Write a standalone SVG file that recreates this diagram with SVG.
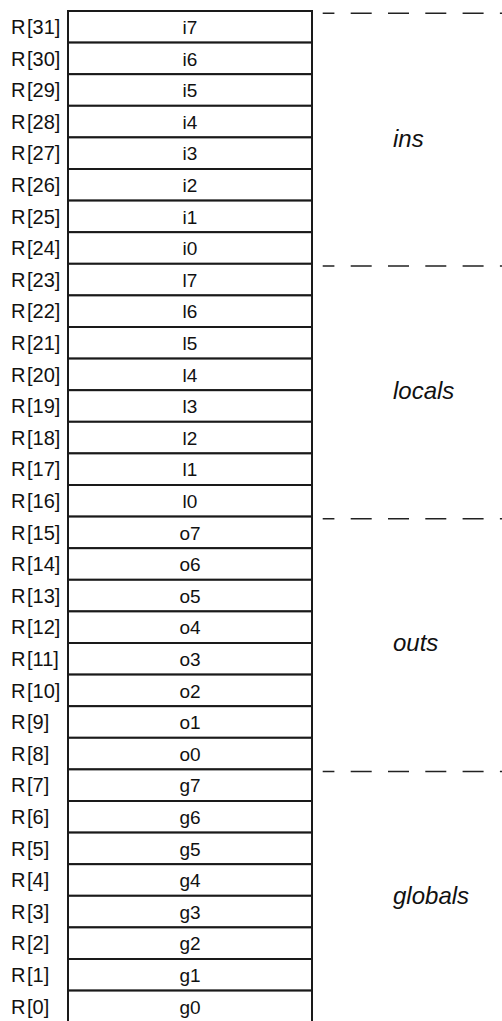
<svg xmlns="http://www.w3.org/2000/svg" width="502" height="1021" viewBox="0 0 502 1021">
  <style>
    .cell { fill: #ffffff; stroke: #1a1a1a; stroke-width: 2; }
    .reg { font-family: "Liberation Sans", Arial, sans-serif; font-size: 20px; fill: #111111; }
    .name { font-family: "Liberation Sans", Arial, sans-serif; font-size: 19px; fill: #111111; text-anchor: middle; }
    .grp { font-family: "Liberation Sans", Arial, sans-serif; font-size: 24px; font-style: italic; fill: #111111; }
    .sep { stroke: #222222; stroke-width: 1.5; stroke-dasharray: 21 16.3; stroke-dashoffset: 9.3; fill: none; }
  </style>
  <rect width="502" height="1021" fill="#ffffff"/>

  <!-- register file: 32 rows, R[31] at the top, 31.6px per row -->
  <g id="r31"><rect class="cell" x="68" y="11" width="244" height="31.6"/><text class="reg" x="11" y="34">R<tspan dx="1.5">[31]</tspan></text><text class="name" x="190" y="34">i7</text></g>
  <g id="r30"><rect class="cell" x="68" y="42.6" width="244" height="31.6"/><text class="reg" x="11" y="65.6">R<tspan dx="1.5">[30]</tspan></text><text class="name" x="190" y="65.6">i6</text></g>
  <g id="r29"><rect class="cell" x="68" y="74.2" width="244" height="31.6"/><text class="reg" x="11" y="97.2">R<tspan dx="1.5">[29]</tspan></text><text class="name" x="190" y="97.2">i5</text></g>
  <g id="r28"><rect class="cell" x="68" y="105.8" width="244" height="31.6"/><text class="reg" x="11" y="128.8">R<tspan dx="1.5">[28]</tspan></text><text class="name" x="190" y="128.8">i4</text></g>
  <g id="r27"><rect class="cell" x="68" y="137.4" width="244" height="31.6"/><text class="reg" x="11" y="160.4">R<tspan dx="1.5">[27]</tspan></text><text class="name" x="190" y="160.4">i3</text></g>
  <g id="r26"><rect class="cell" x="68" y="169" width="244" height="31.6"/><text class="reg" x="11" y="192">R<tspan dx="1.5">[26]</tspan></text><text class="name" x="190" y="192">i2</text></g>
  <g id="r25"><rect class="cell" x="68" y="200.6" width="244" height="31.6"/><text class="reg" x="11" y="223.6">R<tspan dx="1.5">[25]</tspan></text><text class="name" x="190" y="223.6">i1</text></g>
  <g id="r24"><rect class="cell" x="68" y="232.2" width="244" height="31.6"/><text class="reg" x="11" y="255.2">R<tspan dx="1.5">[24]</tspan></text><text class="name" x="190" y="255.2">i0</text></g>
  <g id="r23"><rect class="cell" x="68" y="263.8" width="244" height="31.6"/><text class="reg" x="11" y="286.8">R<tspan dx="1.5">[23]</tspan></text><text class="name" x="190" y="286.8">l7</text></g>
  <g id="r22"><rect class="cell" x="68" y="295.4" width="244" height="31.6"/><text class="reg" x="11" y="318.4">R<tspan dx="1.5">[22]</tspan></text><text class="name" x="190" y="318.4">l6</text></g>
  <g id="r21"><rect class="cell" x="68" y="327" width="244" height="31.6"/><text class="reg" x="11" y="350">R<tspan dx="1.5">[21]</tspan></text><text class="name" x="190" y="350">l5</text></g>
  <g id="r20"><rect class="cell" x="68" y="358.6" width="244" height="31.6"/><text class="reg" x="11" y="381.6">R<tspan dx="1.5">[20]</tspan></text><text class="name" x="190" y="381.6">l4</text></g>
  <g id="r19"><rect class="cell" x="68" y="390.2" width="244" height="31.6"/><text class="reg" x="11" y="413.2">R<tspan dx="1.5">[19]</tspan></text><text class="name" x="190" y="413.2">l3</text></g>
  <g id="r18"><rect class="cell" x="68" y="421.8" width="244" height="31.6"/><text class="reg" x="11" y="444.8">R<tspan dx="1.5">[18]</tspan></text><text class="name" x="190" y="444.8">l2</text></g>
  <g id="r17"><rect class="cell" x="68" y="453.4" width="244" height="31.6"/><text class="reg" x="11" y="476.4">R<tspan dx="1.5">[17]</tspan></text><text class="name" x="190" y="476.4">l1</text></g>
  <g id="r16"><rect class="cell" x="68" y="485" width="244" height="31.6"/><text class="reg" x="11" y="508">R<tspan dx="1.5">[16]</tspan></text><text class="name" x="190" y="508">l0</text></g>
  <g id="r15"><rect class="cell" x="68" y="516.6" width="244" height="31.6"/><text class="reg" x="11" y="539.6">R<tspan dx="1.5">[15]</tspan></text><text class="name" x="190" y="539.6">o7</text></g>
  <g id="r14"><rect class="cell" x="68" y="548.2" width="244" height="31.6"/><text class="reg" x="11" y="571.2">R<tspan dx="1.5">[14]</tspan></text><text class="name" x="190" y="571.2">o6</text></g>
  <g id="r13"><rect class="cell" x="68" y="579.8" width="244" height="31.6"/><text class="reg" x="11" y="602.8">R<tspan dx="1.5">[13]</tspan></text><text class="name" x="190" y="602.8">o5</text></g>
  <g id="r12"><rect class="cell" x="68" y="611.4" width="244" height="31.6"/><text class="reg" x="11" y="634.4">R<tspan dx="1.5">[12]</tspan></text><text class="name" x="190" y="634.4">o4</text></g>
  <g id="r11"><rect class="cell" x="68" y="643" width="244" height="31.6"/><text class="reg" x="11" y="666">R<tspan dx="1.5">[11]</tspan></text><text class="name" x="190" y="666">o3</text></g>
  <g id="r10"><rect class="cell" x="68" y="674.6" width="244" height="31.6"/><text class="reg" x="11" y="697.6">R<tspan dx="1.5">[10]</tspan></text><text class="name" x="190" y="697.6">o2</text></g>
  <g id="r9"><rect class="cell" x="68" y="706.2" width="244" height="31.6"/><text class="reg" x="11" y="729.2">R<tspan dx="1.5">[9]</tspan></text><text class="name" x="190" y="729.2">o1</text></g>
  <g id="r8"><rect class="cell" x="68" y="737.8" width="244" height="31.6"/><text class="reg" x="11" y="760.8">R<tspan dx="1.5">[8]</tspan></text><text class="name" x="190" y="760.8">o0</text></g>
  <g id="r7"><rect class="cell" x="68" y="769.4" width="244" height="31.6"/><text class="reg" x="11" y="792.4">R<tspan dx="1.5">[7]</tspan></text><text class="name" x="190" y="792.4">g7</text></g>
  <g id="r6"><rect class="cell" x="68" y="801" width="244" height="31.6"/><text class="reg" x="11" y="824">R<tspan dx="1.5">[6]</tspan></text><text class="name" x="190" y="824">g6</text></g>
  <g id="r5"><rect class="cell" x="68" y="832.6" width="244" height="31.6"/><text class="reg" x="11" y="855.6">R<tspan dx="1.5">[5]</tspan></text><text class="name" x="190" y="855.6">g5</text></g>
  <g id="r4"><rect class="cell" x="68" y="864.2" width="244" height="31.6"/><text class="reg" x="11" y="887.2">R<tspan dx="1.5">[4]</tspan></text><text class="name" x="190" y="887.2">g4</text></g>
  <g id="r3"><rect class="cell" x="68" y="895.8" width="244" height="31.6"/><text class="reg" x="11" y="918.8">R<tspan dx="1.5">[3]</tspan></text><text class="name" x="190" y="918.8">g3</text></g>
  <g id="r2"><rect class="cell" x="68" y="927.4" width="244" height="31.6"/><text class="reg" x="11" y="950.4">R<tspan dx="1.5">[2]</tspan></text><text class="name" x="190" y="950.4">g2</text></g>
  <g id="r1"><rect class="cell" x="68" y="959" width="244" height="31.6"/><text class="reg" x="11" y="982">R<tspan dx="1.5">[1]</tspan></text><text class="name" x="190" y="982">g1</text></g>
  <g id="r0"><rect class="cell" x="68" y="990.6" width="244" height="40"/><text class="reg" x="11" y="1013.6">R<tspan dx="1.5">[0]</tspan></text><text class="name" x="190" y="1013.6">g0</text></g>

  <!-- window boundaries -->
  <g id="separators">
    <line class="sep" x1="322.7" y1="13.3" x2="502" y2="13.3"/>
    <line class="sep" x1="322.7" y1="266" x2="502" y2="266"/>
    <line class="sep" x1="322.7" y1="518.8" x2="502" y2="518.8"/>
    <line class="sep" x1="322.7" y1="771.6" x2="502" y2="771.6"/>
  </g>

  <!-- group names -->
  <g id="groups">
    <text class="grp" x="393" y="147">ins</text>
    <text class="grp" x="393" y="399">locals</text>
    <text class="grp" x="393" y="651">outs</text>
    <text class="grp" x="393" y="904">globals</text>
  </g>
</svg>
